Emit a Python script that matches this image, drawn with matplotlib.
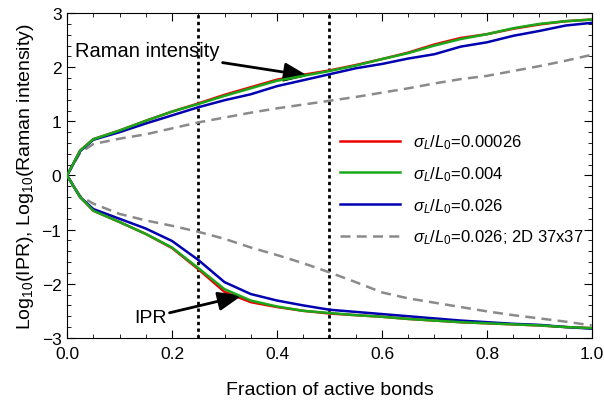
import matplotlib
matplotlib.use('Agg')
import matplotlib.pyplot as plt
from matplotlib.ticker import MultipleLocator, FormatStrFormatter

plt.rcParams['font.family'] = 'Liberation Sans'
plt.rcParams['mathtext.fontset'] = 'custom'
plt.rcParams['mathtext.rm'] = 'Liberation Sans'
plt.rcParams['mathtext.it'] = 'Liberation Sans:italic'
plt.rcParams['font.size'] = 12

# fraction of active bonds
x = [0.0, 0.025, 0.05, 0.1, 0.15, 0.2, 0.25, 0.3, 0.35, 0.4, 0.45, 0.5,
     0.55, 0.6, 0.65, 0.7, 0.75, 0.8, 0.85, 0.9, 0.95, 1.0]

# log10(Raman intensity)
raman_red = [0.0, 0.46, 0.67, 0.83, 1.01, 1.18, 1.33, 1.49, 1.63, 1.77, 1.86, 1.94,
             2.04, 2.15, 2.27, 2.42, 2.54, 2.61, 2.71, 2.79, 2.85, 2.88]
raman_green = [0.0, 0.46, 0.67, 0.83, 1.01, 1.18, 1.32, 1.47, 1.61, 1.75, 1.84, 1.93,
               2.03, 2.15, 2.26, 2.40, 2.52, 2.61, 2.72, 2.80, 2.85, 2.88]
raman_blue = [0.0, 0.45, 0.66, 0.80, 0.96, 1.11, 1.26, 1.39, 1.50, 1.65, 1.76, 1.87,
              1.98, 2.06, 2.16, 2.24, 2.38, 2.46, 2.58, 2.67, 2.77, 2.82]
raman_2d = [0.0, 0.42, 0.58, 0.68, 0.76, 0.87, 0.98, 1.07, 1.16, 1.24, 1.31, 1.38,
            1.45, 1.53, 1.61, 1.70, 1.78, 1.84, 1.93, 2.02, 2.12, 2.23]

# log10(IPR)
ipr_red = [0.0, -0.40, -0.65, -0.86, -1.08, -1.34, -1.73, -2.15, -2.34, -2.43, -2.50, -2.55,
           -2.58, -2.61, -2.65, -2.68, -2.71, -2.73, -2.75, -2.77, -2.80, -2.82]
ipr_green = [0.0, -0.40, -0.65, -0.86, -1.08, -1.33, -1.71, -2.10, -2.31, -2.42, -2.50, -2.54,
             -2.58, -2.61, -2.65, -2.68, -2.71, -2.73, -2.75, -2.77, -2.80, -2.82]
ipr_blue = [0.0, -0.40, -0.62, -0.80, -0.98, -1.21, -1.56, -1.97, -2.19, -2.31, -2.40, -2.48,
            -2.52, -2.56, -2.60, -2.64, -2.68, -2.71, -2.74, -2.76, -2.80, -2.83]
ipr_2d = [0.0, -0.38, -0.52, -0.71, -0.83, -0.93, -1.04, -1.17, -1.33, -1.47, -1.62, -1.79,
          -1.97, -2.16, -2.27, -2.35, -2.43, -2.51, -2.58, -2.64, -2.70, -2.77]

labels = [r'$\sigma_L/L_0$=0.00026', r'$\sigma_L/L_0$=0.004',
          r'$\sigma_L/L_0$=0.026', r'$\sigma_L/L_0$=0.026; 2D 37x37']
red = '#ee0000'
green = '#1aa81a'
blue = '#0000b0'
gray = '#8a8a8a'

fig = plt.figure(figsize=(6.04, 4.02), dpi=100)
ax = fig.add_axes([0.111, 0.157, 0.869, 0.808])

ax.axvline(0.25, color='black', linestyle=(0, (1.2, 1.2)), lw=2, zorder=1)
ax.axvline(0.5, color='black', linestyle=(0, (1.2, 1.2)), lw=2, zorder=1)

dash = (0, (4, 2.5))
ax.plot(x, raman_2d, color=gray, lw=1.8, linestyle=dash, label=labels[3], zorder=2)
ax.plot(x, ipr_2d, color=gray, lw=1.8, linestyle=dash, zorder=2)
ax.plot(x, raman_red, color=red, lw=1.8, label=labels[0], zorder=3)
ax.plot(x, ipr_red, color=red, lw=1.8, zorder=3)
ax.plot(x, raman_blue, color=blue, lw=1.8, label=labels[2], zorder=3)
ax.plot(x, ipr_blue, color=blue, lw=1.8, zorder=3)
ax.plot(x, raman_green, color=green, lw=1.8, label=labels[1], zorder=4)
ax.plot(x, ipr_green, color=green, lw=1.8, zorder=4)

ax.set_xlim(0, 1)
ax.set_ylim(-3, 3)
ax.xaxis.set_major_locator(MultipleLocator(0.2))
ax.xaxis.set_minor_locator(MultipleLocator(0.05))
ax.yaxis.set_major_locator(MultipleLocator(1))
ax.yaxis.set_minor_locator(MultipleLocator(0.2))
ax.tick_params(which='both', direction='in', top=True, right=True, labelsize=12.5)
ax.tick_params(which='major', length=6, width=0.8)
ax.tick_params(which='minor', length=3, width=0.6)
ax.tick_params(axis='x', pad=6)
ax.tick_params(axis='y', pad=4)
ax.xaxis.set_major_formatter(FormatStrFormatter('%.1f'))

ax.set_xlabel('Fraction of active bonds', fontsize=14, labelpad=14)
ax.set_ylabel(r'Log$_{10}$(IPR), Log$_{10}$(Raman intensity)', fontsize=14, labelpad=4)

arrow = dict(arrowstyle='-|>,head_length=0.8,head_width=0.32', color='black', lw=2,
             mutation_scale=18, shrinkA=0, shrinkB=0)
ax.annotate('Raman intensity', xy=(0.459, 1.84), xytext=(0.291, 2.30),
            ha='right', va='center', fontsize=14.5, arrowprops=arrow)
ax.annotate('IPR', xy=(0.333, -2.22), xytext=(0.19, -2.62),
            ha='right', va='center', fontsize=14, arrowprops=arrow)

h, l = ax.get_legend_handles_labels()
hd = dict(zip(l, h))
ax.legend([hd[s] for s in labels], labels, loc='upper left', bbox_to_anchor=(0.52, 0.632),
          frameon=False, borderpad=0, borderaxespad=0, handlelength=3.6,
          handletextpad=0.78, labelspacing=0.78, fontsize=12)

fig.savefig('out.png', dpi=100)
